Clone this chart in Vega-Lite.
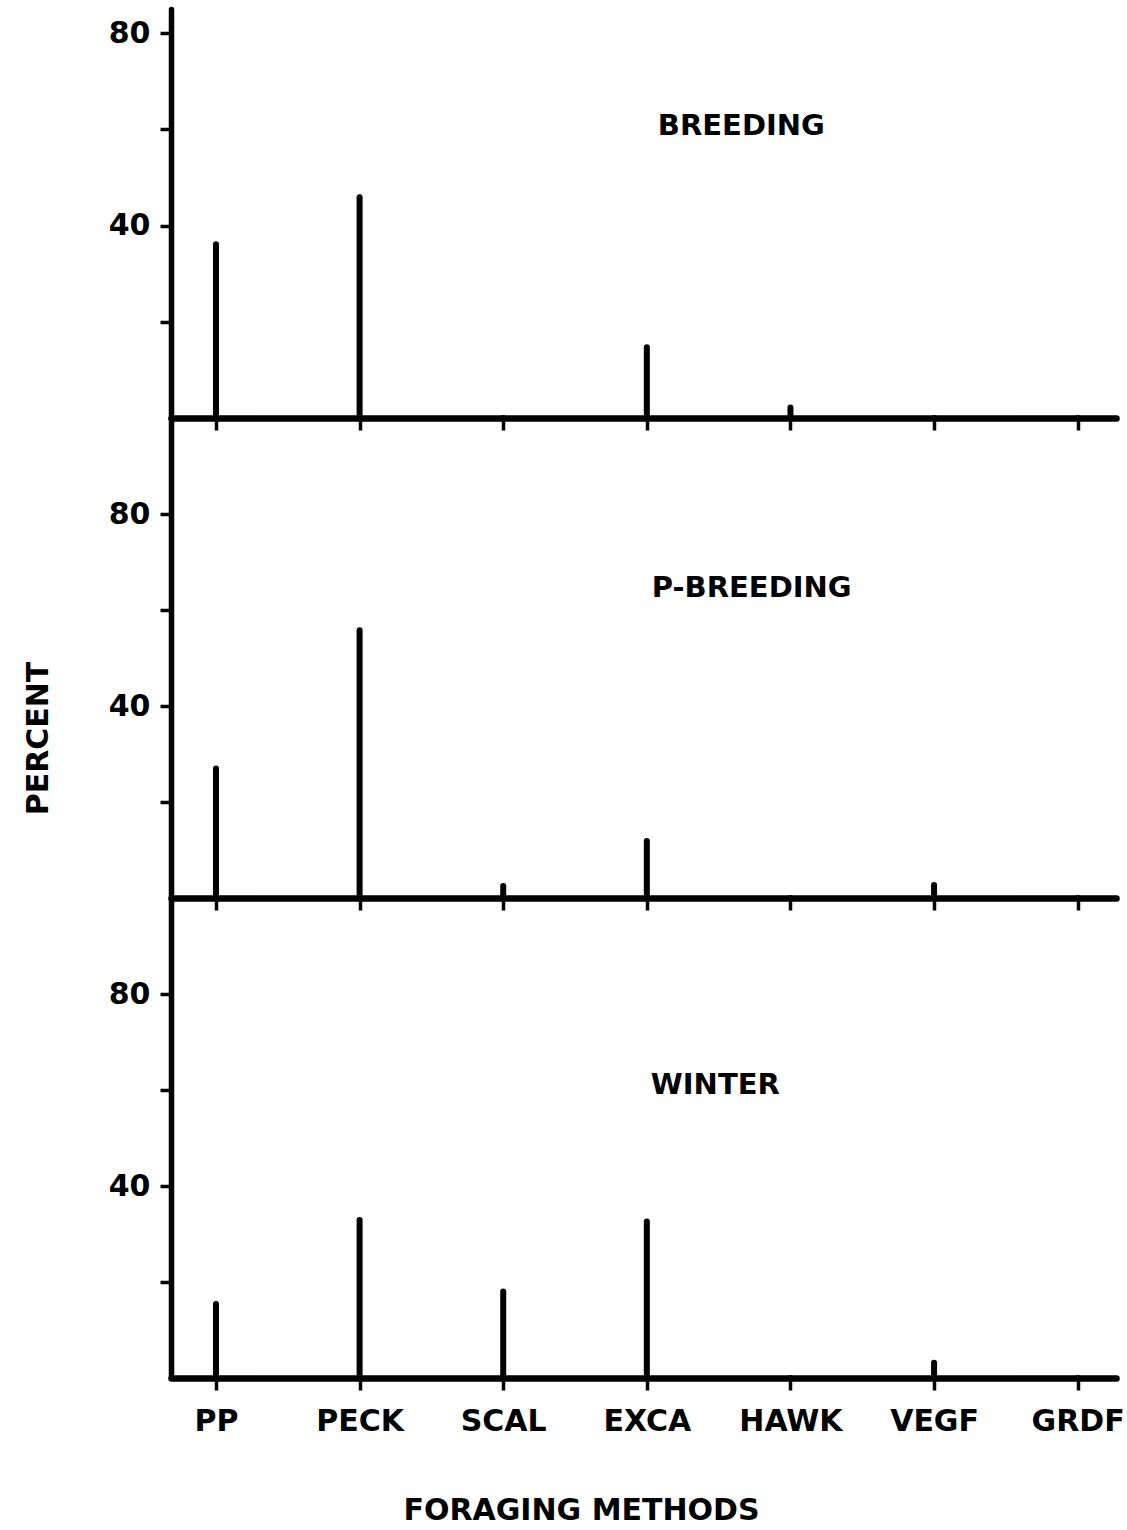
{
  "$schema": "https://vega.github.io/schema/vega-lite/v6.json",
  "background": "white",
  "padding": {"left": 23, "top": 9, "right": 5, "bottom": 5},
  "bounds": "flush",
  "spacing": 0,
  "datasets": {
    "foraging": [
      {"season": "BREEDING", "method": "PP", "percent": 36.1},
      {"season": "BREEDING", "method": "PECK", "percent": 45.9},
      {"season": "BREEDING", "method": "SCAL", "percent": 0},
      {"season": "BREEDING", "method": "EXCA", "percent": 14.7},
      {"season": "BREEDING", "method": "HAWK", "percent": 2.2},
      {"season": "BREEDING", "method": "VEGF", "percent": 0},
      {"season": "BREEDING", "method": "GRDF", "percent": 0},
      {"season": "P-BREEDING", "method": "PP", "percent": 27.0},
      {"season": "P-BREEDING", "method": "PECK", "percent": 55.8},
      {"season": "P-BREEDING", "method": "SCAL", "percent": 2.5},
      {"season": "P-BREEDING", "method": "EXCA", "percent": 11.9},
      {"season": "P-BREEDING", "method": "HAWK", "percent": 0},
      {"season": "P-BREEDING", "method": "VEGF", "percent": 2.7},
      {"season": "P-BREEDING", "method": "GRDF", "percent": 0},
      {"season": "WINTER", "method": "PP", "percent": 15.4},
      {"season": "WINTER", "method": "PECK", "percent": 32.9},
      {"season": "WINTER", "method": "SCAL", "percent": 18.0},
      {"season": "WINTER", "method": "EXCA", "percent": 32.6},
      {"season": "WINTER", "method": "HAWK", "percent": 0},
      {"season": "WINTER", "method": "VEGF", "percent": 3.2},
      {"season": "WINTER", "method": "GRDF", "percent": 0}
    ]
  },
  "config": {
    "view": {"stroke": null},
    "font": "DejaVu Sans",
    "axis": {
      "grid": false,
      "domainColor": "black",
      "tickColor": "black",
      "labelColor": "black",
      "titleColor": "black",
      "labelFont": "DejaVu Sans",
      "titleFont": "DejaVu Sans",
      "labelFontWeight": "bold",
      "titleFontWeight": "bold",
      "labelFontSize": 30,
      "titleFontSize": 30
    }
  },
  "vconcat": [
    {
      "width": 945,
      "height": 409,
      "layer": [
        {
          "data": {"name": "foraging"},
          "transform": [{"filter": "datum.season === 'BREEDING'"}],
          "mark": {"type": "rule", "strokeWidth": 6, "strokeCap": "round", "color": "black"},
          "encoding": {
            "x": {"field": "method", "type": "nominal",
              "scale": {"type": "point", "domain": ["PP", "PECK", "SCAL", "EXCA", "HAWK", "VEGF", "GRDF"], "padding": 0.29, "align": 0.54},
              "axis": {"labels": false, "title": null, "domainWidth": 6.5, "domainCap": "round", "tickSize": 12, "tickWidth": 3.5}},
            "y": {"field": "percent", "type": "quantitative",
              "scale": {"domain": [0, 85], "nice": false, "zero": true},
              "axis": {"values": [20, 40, 60, 80], "labelExpr": "datum.value % 40 === 0 ? datum.label : ''", "tickSize": 11, "tickWidth": 3.5, "domainWidth": 5.5, "domainCap": "round", "labelPadding": 10, "title": null}},
            "y2": {"datum": 0}
          }
        },
        {
          "data": {"values": [{"label": "BREEDING"}]},
          "mark": {"type": "text", "align": "left", "baseline": "alphabetic", "fontSize": 29, "fontWeight": "bold", "dx": 11, "color": "black"},
          "encoding": {
            "text": {"field": "label"},
            "x": {"datum": "EXCA"},
            "y": {"datum": 58.8}
          }
        }
      ]
    },
    {
      "width": 945,
      "height": 480,
      "layer": [
        {
          "data": {"name": "foraging"},
          "transform": [{"filter": "datum.season === 'P-BREEDING'"}],
          "mark": {"type": "rule", "strokeWidth": 6, "strokeCap": "round", "color": "black"},
          "encoding": {
            "x": {"field": "method", "type": "nominal",
              "scale": {"type": "point", "domain": ["PP", "PECK", "SCAL", "EXCA", "HAWK", "VEGF", "GRDF"], "padding": 0.29, "align": 0.54},
              "axis": {"labels": false, "title": null, "domainWidth": 6.5, "domainCap": "round", "tickSize": 12, "tickWidth": 3.5}},
            "y": {"field": "percent", "type": "quantitative",
              "scale": {"domain": [0, 100], "nice": false, "zero": true},
              "axis": {"values": [20, 40, 60, 80], "labelExpr": "datum.value % 40 === 0 ? datum.label : ''", "tickSize": 11, "tickWidth": 3.5, "domainWidth": 5.5, "labelPadding": 10,
                "title": "PERCENT", "titleX": -124, "titleY": 320, "titleAngle": 270, "titleBaseline": "alphabetic", "titleAlign": "center"}},
            "y2": {"datum": 0}
          }
        },
        {
          "data": {"values": [{"label": "P-BREEDING"}]},
          "mark": {"type": "text", "align": "left", "baseline": "alphabetic", "fontSize": 29, "fontWeight": "bold", "dx": 5, "color": "black"},
          "encoding": {
            "text": {"field": "label"},
            "x": {"datum": "EXCA"},
            "y": {"datum": 62.7}
          }
        }
      ]
    },
    {
      "width": 945,
      "height": 480,
      "layer": [
        {
          "data": {"name": "foraging"},
          "transform": [{"filter": "datum.season === 'WINTER'"}],
          "mark": {"type": "rule", "strokeWidth": 6, "strokeCap": "round", "color": "black"},
          "encoding": {
            "x": {"field": "method", "type": "nominal",
              "scale": {"type": "point", "domain": ["PP", "PECK", "SCAL", "EXCA", "HAWK", "VEGF", "GRDF"], "padding": 0.29, "align": 0.54},
              "axis": {"labelAngle": 0, "domainWidth": 6.5, "domainCap": "round", "tickSize": 12, "tickWidth": 3.5, "labelPadding": 16,
                "title": "FORAGING METHODS", "titleX": 410, "titleY": 141, "titleBaseline": "alphabetic", "titleAlign": "center"}},
            "y": {"field": "percent", "type": "quantitative",
              "scale": {"domain": [0, 100], "nice": false, "zero": true},
              "axis": {"values": [20, 40, 60, 80], "labelExpr": "datum.value % 40 === 0 ? datum.label : ''", "tickSize": 11, "tickWidth": 3.5, "domainWidth": 5.5, "labelPadding": 10, "title": null}},
            "y2": {"datum": 0}
          }
        },
        {
          "data": {"values": [{"label": "WINTER"}]},
          "mark": {"type": "text", "align": "left", "baseline": "alphabetic", "fontSize": 29, "fontWeight": "bold", "dx": 4, "color": "black"},
          "encoding": {
            "text": {"field": "label"},
            "x": {"datum": "EXCA"},
            "y": {"datum": 59.2}
          }
        }
      ]
    }
  ]
}
